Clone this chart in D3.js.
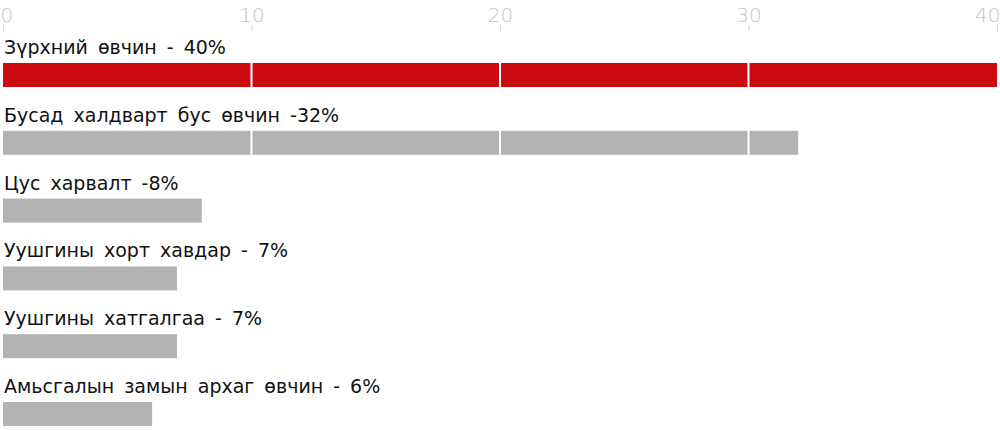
<!DOCTYPE html>
<html><head><meta charset="utf-8">
<script src="https://cdn.jsdelivr.net/npm/d3@7"></script>
<style>body{margin:0;background:#fff}svg{display:block}</style>
</head><body>
<svg id="c" width="1000" height="430"></svg>
<script>
const categories = ["heart","other","stroke","lungcancer","pneumonia","copd"];
const labels = ["Зүрхний өвчин - 40%","Бусад халдварт бус өвчин -32%","Цус харвалт -8%","Уушгины хорт хавдар - 7%","Уушгины хатгалгаа - 7%","Амьсгалын замын архаг өвчин - 6%"];
const values = [40,32,8,7,7,6];
const ticks = [0,10,20,30,40];
const colors = ["#cc0a12","#b3b3b3","#b3b3b3","#b3b3b3","#b3b3b3","#b3b3b3"];

const svg = d3.select("#c");
const x = d3.scaleLinear().domain([0,40]).range([3,997]);
const y = d3.scaleBand().domain(categories).range([63,426]).paddingInner(0.646).paddingOuter(0);

// axis
const ax = svg.append("g").attr("transform","translate(0,31)")
  .call(d3.axisTop(x).tickValues(ticks).tickSize(6).tickSizeOuter(0).tickPadding(3));
ax.select(".domain").remove();
ax.selectAll(".tick line").attr("stroke","#d0d0d0");
ax.selectAll(".tick text").attr("fill","#c4c4c4").style("font-family","'DejaVu Sans'")
  .style("font-size","20px").style("font-weight","200")
  .attr("text-anchor",d=> d===0 ? "start" : (d===40 ? "end" : "middle"))
  .attr("dx",d=> d===0 ? -3 : (d===40 ? 3 : 0));

// bars
svg.append("g").selectAll("rect").data(categories).join("rect")
  .attr("x",x(0)).attr("y",d=>y(d)).attr("height",y.bandwidth())
  .attr("width",(d,i)=>x(values[i])-x(0)).attr("fill",(d,i)=>colors[i]);

// white gridlines over bars
const g = svg.append("g");
categories.forEach((c,i)=>{
  [10,20,30].filter(t=>t<values[i]).forEach(t=>{
    g.append("line").attr("x1",x(t)).attr("x2",x(t))
      .attr("y1",y(c)).attr("y2",y(c)+y.bandwidth())
      .attr("stroke","#fff").attr("stroke-width",2);
  });
});

// labels
svg.append("g").selectAll("text").data(categories).join("text")
  .attr("x",4).attr("y",d=>y(d)-9)
  .text((d,i)=>labels[i])
  .attr("fill","#111").style("font-family","'DejaVu Sans'").style("font-size","19px")
  .style("word-spacing","4px");
</script>
</body></html>
